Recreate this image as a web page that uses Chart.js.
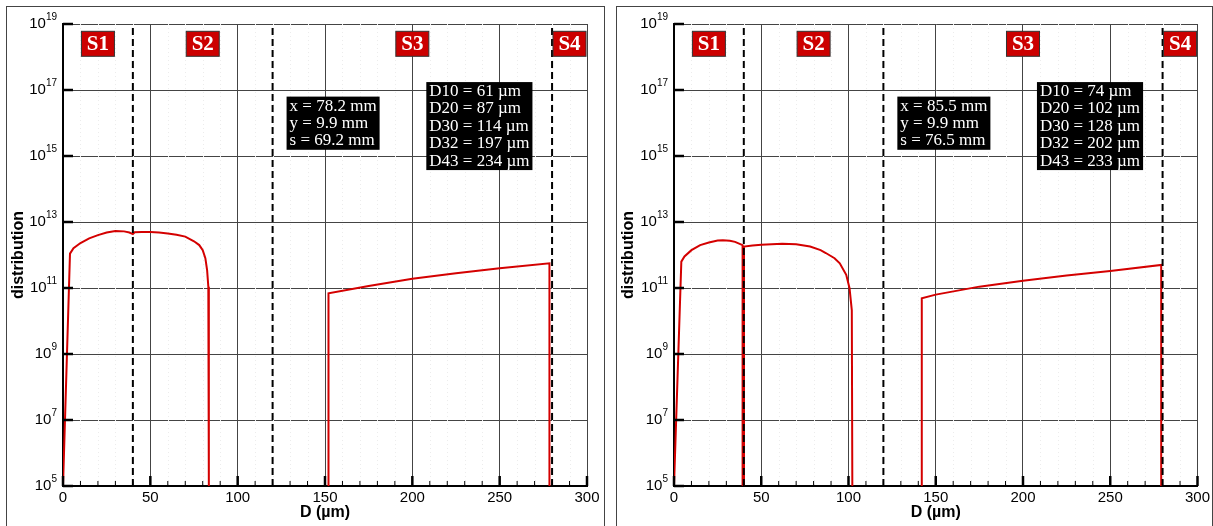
<!DOCTYPE html>
<html>
<head>
<meta charset="utf-8">
<script src="https://cdn.jsdelivr.net/npm/chart.js@4.4.1/dist/chart.umd.min.js"></script>
<style>
  body { margin: 0; background: #fff; width: 1213px; height: 526px; overflow: hidden; position: relative; }
  .frame { position: absolute; top: 6px; height: 540px; border: 1px solid #444; }
  canvas { position: absolute; top: 0; }
</style>
</head>
<body>
<div class="frame" style="left:6px;width:597px"></div>
<div class="frame" style="left:616px;width:595px"></div>
<canvas id="left" style="left:0" width="606" height="526"></canvas>
<canvas id="right" style="left:610px" width="603" height="526"></canvas>
<script>
// region limits (µm) and names
const boundaries = [40, 120, 280];
const regionNames = ['S1', 'S2', 'S3', 'S4'];
const yExponents = [5, 7, 9, 11, 13, 15, 17, 19];

// left panel
const leftD = [0, 4, 6, 10, 15, 20, 25, 30, 35, 38, 40, 41, 45, 50, 55, 60, 65, 70, 75, 78, 80, 81.5, 82.5, 83.2, 83.5,
  120, 152, 152, 175, 200, 225, 250, 278.5, 278.5];
const leftDist = [1e5, 1.1e12, 1.6e12, 2.3e12, 3.2e12, 4.0e12, 4.8e12, 5.3e12, 5.2e12, 4.8e12, 4.3e12, 4.9e12, 5.0e12, 5.0e12,
  4.8e12, 4.5e12, 4.1e12, 3.6e12, 2.6e12, 2.0e12, 1.4e12, 8e11, 3.5e11, 1.1e11, 1e5,
  null, 1e5, 6.9e10, 1.15e11, 1.9e11, 2.8e11, 4e11, 5.6e11, 1e5];
const leftPos = ['x = 78.2 mm', 'y = 9.9 mm', 's = 69.2 mm'];
const leftDiam = ['D10 = 61 µm', 'D20 = 87 µm', 'D30 = 114 µm', 'D32 = 197 µm', 'D43 = 234 µm'];

// right panel
const rightD = [0, 4.2, 6, 10, 15, 20, 25, 28, 32, 35, 39.3, 39.3, 40.1, 40.1, 45, 50, 62, 70, 78, 84, 87, 92, 95, 98.7, 100.6, 101.9, 102.2,
  120, 142, 142, 150, 175, 200, 225, 250, 279.2, 279.2];
const rightDist = [1e5, 6.3e11, 9e11, 1.4e12, 2.0e12, 2.4e12, 2.75e12, 2.8e12, 2.7e12, 2.5e12, 2.0e12, 1e5, 1e5, 1.8e12, 1.95e12,
  2.05e12, 2.2e12, 2.1e12, 1.8e12, 1.4e12, 1.15e12, 8e11, 5.6e11, 2.5e11, 9.8e10, 2.1e10, 1e5,
  null, 1e5, 4.9e10, 6.3e10, 1.1e11, 1.66e11, 2.4e11, 3.3e11, 5e11, 1e5];
const rightPos = ['x = 85.5 mm', 'y = 9.9 mm', 's = 76.5 mm'];
const rightDiam = ['D10 = 74 µm', 'D20 = 102 µm', 'D30 = 128 µm', 'D32 = 202 µm', 'D43 = 233 µm'];

const sans = 'Liberation Sans';
const serif = 'Liberation Serif';

// draws inward ticks, 10^n labels, region tags and info boxes
const decor = {
  id: 'decor',
  beforeDatasetsDraw(chart) {
    const ctx = chart.ctx, x = chart.scales.x, a = chart.chartArea;
    ctx.save();
    ctx.strokeStyle = '#ececec';
    ctx.lineWidth = 1;
    ctx.setLineDash([1, 3]);
    for (let v = 10; v < 300; v += 10) {
      if (v % 50 === 0) continue;
      const px = Math.round(x.getPixelForValue(v)) + 0.5;
      ctx.beginPath(); ctx.moveTo(px, a.top); ctx.lineTo(px, a.bottom); ctx.stroke();
    }
    ctx.restore();
  },
  afterDraw(chart, args, opts) {
    const ctx = chart.ctx, x = chart.scales.x, y = chart.scales.y, a = chart.chartArea;
    ctx.save();
    ctx.strokeStyle = '#000';
    // x ticks
    for (let v = 0; v <= 300; v += 10) {
      const px = x.getPixelForValue(v);
      const major = v % 50 === 0;
      ctx.lineWidth = major ? 2.5 : 1;
      ctx.beginPath(); ctx.moveTo(px, a.bottom); ctx.lineTo(px, a.bottom - (major ? 10 : 5)); ctx.stroke();
    }
    // y ticks + labels
    yExponents.forEach(e => {
      const py = y.getPixelForValue(Math.pow(10, e));
      ctx.lineWidth = 2.5;
      ctx.beginPath(); ctx.moveTo(a.left, py); ctx.lineTo(a.left + 10, py); ctx.stroke();
      ctx.fillStyle = '#000';
      ctx.font = '10px ' + sans;
      const w2 = ctx.measureText(String(e)).width;
      ctx.font = '15px ' + sans;
      const w1 = ctx.measureText('10').width;
      const right = a.left - 6;
      ctx.textBaseline = 'middle';
      ctx.textAlign = 'left';
      ctx.fillText('10', right - w2 - w1, py);
      ctx.font = '10px ' + sans;
      ctx.textBaseline = 'alphabetic';
      ctx.fillText(String(e), right - w2, py - 4);
    });
    // region tags
    const edges = [x.min, ...boundaries, x.max];
    const ty = y.getPixelForValue(Math.pow(10, 18.4));
    regionNames.forEach((name, i) => {
      const cx = x.getPixelForValue((edges[i] + edges[i + 1]) / 2);
      ctx.fillStyle = '#cc0000';
      ctx.fillRect(cx - 16.5, ty - 12.5, 33, 25);
      ctx.strokeStyle = '#333';
      ctx.lineWidth = 1;
      ctx.strokeRect(cx - 16.5, ty - 12.5, 33, 25);
      ctx.fillStyle = '#fff';
      ctx.font = 'bold 21px ' + serif;
      ctx.textAlign = 'center';
      ctx.textBaseline = 'middle';
      ctx.fillText(name, cx, ty + 1);
    });
    // info boxes
    const box = (lines, dx, dy) => {
      const left = x.getPixelForValue(dx), top = y.getPixelForValue(Math.pow(10, dy));
      ctx.font = '17px ' + serif;
      const w = Math.max(...lines.map(t => ctx.measureText(t).width)) + 6;
      const h = lines.length * 17.4 + 1;
      ctx.fillStyle = '#000';
      ctx.fillRect(left, top, w, h);
      ctx.fillStyle = '#fff';
      ctx.textAlign = 'left';
      ctx.textBaseline = 'middle';
      lines.forEach((t, i) => ctx.fillText(t, left + 3, top + 9.5 + i * 17.4));
    };
    box(opts.pos, 128, 16.8);
    box(opts.diam, 208, 17.24);
    ctx.restore();
  }
};

function makeChart(id, ds, dist, pos, diam, padL, yWidth, padR) {
  const lines = boundaries.map(b => ({
    data: [{ x: b, y: Math.pow(10, yExponents[0]) }, { x: b, y: Math.pow(10, yExponents[yExponents.length - 1]) }],
    borderColor: '#000',
    borderWidth: 2,
    borderDash: [7, 4],
    pointRadius: 0,
    order: 0
  }));
  return new Chart(document.getElementById(id), {
    type: 'line',
    data: {
      datasets: lines.concat([{
        data: ds.map((d, i) => ({ x: d, y: dist[i] })),
        borderColor: '#d40000',
        borderWidth: 2,
        pointRadius: 0,
        tension: 0,
        spanGaps: false,
        order: 1
      }])
    },
    options: {
      responsive: false,
      animation: false,
      layout: { padding: { left: padL, top: 24, right: padR, bottom: 0 } },
      plugins: {
        legend: { display: false },
        tooltip: { enabled: false },
        decor: { pos: pos, diam: diam }
      },
      scales: {
        x: {
          type: 'linear',
          min: 0, max: 300,
          ticks: { stepSize: 50, padding: 3, color: '#000', font: { family: sans, size: 15 } },
          grid: { color: '#444', lineWidth: 1, drawTicks: false },
          border: { color: '#000', width: 2 },
          title: { display: true, text: 'D (µm)', color: '#000', font: { family: sans, size: 16, weight: 'bold' } },
          afterFit: s => { s.height = 40; }
        },
        y: {
          type: 'logarithmic',
          min: 1e5, max: 1e19,
          afterBuildTicks: s => { s.ticks = yExponents.map(e => ({ value: Math.pow(10, e) })); },
          ticks: { display: false },
          grid: { color: '#444', lineWidth: 1, drawTicks: false },
          border: { color: '#000', width: 2 },
          title: { display: true, text: 'distribution', color: '#000', font: { family: sans, size: 16, weight: 'bold' } },
          afterFit: s => { s.width = yWidth; }
        }
      }
    },
    plugins: [decor]
  });
}

makeChart('left', leftD, leftDist, leftPos, leftDiam, 5, 58, 19);
makeChart('right', rightD, rightDist, rightPos, rightDiam, 5, 59, 15);
</script>
</body>
</html>
